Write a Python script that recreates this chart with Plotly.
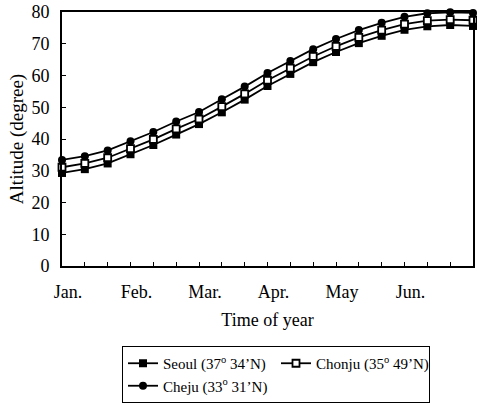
import plotly.graph_objects as go

# Sample index (10-day steps from Jan. 1)
steps = list(range(19))
month_labels = ["Jan.", "", "", "Feb.", "", "", "Mar.", "", "", "Apr.", "", "",
                "May", "", "", "Jun.", "", "", ""]

seoul = [29.3, 30.5, 32.3, 35.2, 38.1, 41.4, 44.7, 48.4, 52.4, 56.7, 60.5, 64.2,
         67.4, 70.2, 72.5, 74.4, 75.5, 75.9, 75.6]
chonju = [31.1, 32.3, 34.1, 37.0, 39.9, 43.2, 46.3, 50.2, 54.2, 58.5, 62.3, 66.0,
          69.2, 72.0, 74.3, 76.2, 77.3, 77.6, 77.4]
cheju = [33.4, 34.6, 36.4, 39.3, 42.2, 45.5, 48.5, 52.5, 56.5, 60.8, 64.6, 68.3,
         71.5, 74.3, 76.6, 78.5, 79.6, 79.9, 79.7]

names = ["Seoul (37<sup>o</sup> 34\u2019N)", "Chonju (35<sup>o</sup> 49\u2019N)",
         "Cheju (33<sup>o</sup> 31\u2019N)"]

FONT = "Liberation Serif, Times New Roman, serif"

fig = go.Figure()
fig.add_trace(go.Scatter(
    x=steps, y=seoul, name=names[0], mode="lines+markers", cliponaxis=False,
    line=dict(color="black", width=1.8),
    marker=dict(symbol="square", size=8, color="black")))
fig.add_trace(go.Scatter(
    x=steps, y=chonju, name=names[1], mode="lines+markers", cliponaxis=False,
    line=dict(color="black", width=1.8),
    marker=dict(symbol="square", size=7, color="white",
                line=dict(color="black", width=1.8))))
fig.add_trace(go.Scatter(
    x=steps, y=cheju, name=names[2], mode="lines+markers", cliponaxis=False,
    line=dict(color="black", width=1.8),
    marker=dict(symbol="circle", size=8, color="black")))

fig.update_layout(
    width=477, height=406,
    margin=dict(l=62, r=2, t=12, b=140),
    paper_bgcolor="white", plot_bgcolor="white",
    font=dict(family=FONT, size=18, color="black"),
    showlegend=True,
    legend=dict(
        orientation="h", xref="container", yref="container",
        x=122 / 477, y=1 - 346 / 406, xanchor="left", yanchor="top",
        bordercolor="black", borderwidth=1, bgcolor="white",
        font=dict(family=FONT, size=15, color="black"),
        entrywidth=108, entrywidthmode="pixels",
        tracegroupgap=0, itemwidth=30,
    ),
    xaxis=dict(
        range=[0, 18], tickmode="array", tickvals=steps, ticktext=month_labels,
        ticks="inside", ticklen=4, tickcolor="black", tickwidth=1,
        showline=True, linecolor="black", linewidth=2, mirror=True,
        showgrid=False, zeroline=False, ticklabelstandoff=8, ticklabelshift=6,
        tickfont=dict(family=FONT, size=18),
        title=dict(text="Time of year", standoff=13,
                   font=dict(family=FONT, size=18)),
    ),
    yaxis=dict(
        range=[0, 80], dtick=10, tick0=0,
        ticks="inside", ticklen=4, tickcolor="black", tickwidth=1,
        showline=True, linecolor="black", linewidth=2, mirror=True,
        showgrid=False, zeroline=False, ticklabelstandoff=7,
        tickfont=dict(family=FONT, size=18),
        title=dict(text="Altitude (degree)", standoff=3,
                   font=dict(family=FONT, size=19)),
    ),
)

fig.write_html("out.html")
